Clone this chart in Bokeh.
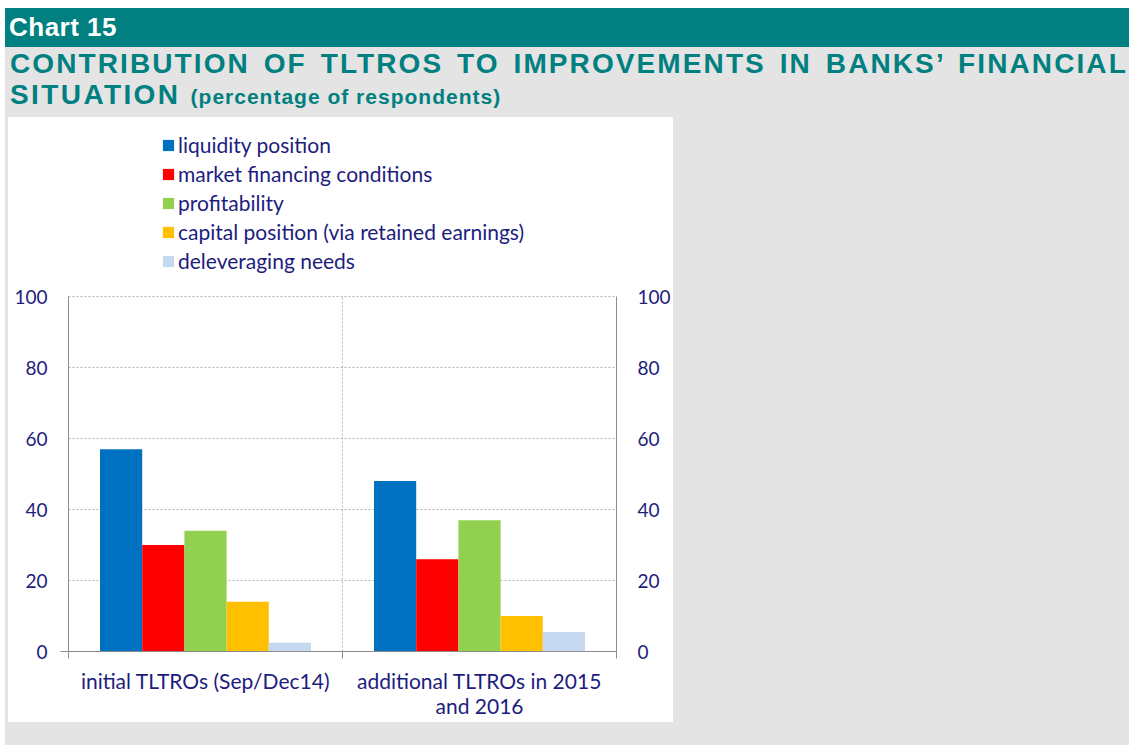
import numpy as np
from bokeh.plotting import figure
from bokeh.models import Range1d, LinearAxis, FixedTicker, Div
from bokeh.layouts import column
from bokeh.embed import file_html
from bokeh.resources import INLINE

# ---------------- data ----------------
categories = ["initial TLTROs (Sep/Dec14)", "additional TLTROs in 2015\nand 2016"]
series_names = [
    "liquidity position",
    "market financing conditions",
    "profitability",
    "capital position (via retained earnings)",
    "deleveraging needs",
]
liquidity = [57, 48]
market_financing = [30, 26]
profitability = [34, 37]
capital = [14, 10]
deleveraging = [2.5, 5.5]
y_ticks = [0, 20, 40, 60, 80, 100]

series_values = [liquidity, market_financing, profitability, capital, deleveraging]
colors = ["#0070C0", "#FF0000", "#92D050", "#FFC000", "#C5D9F1"]

NAVY = "#1d1d7e"
FONT = "Lato"
TEAL = "#008080"
GREY = "#e4e4e4"
AXIS_GREY = "#8c8c8c"
GRID_GREY = "#b4b4b4"

# ---------------- chart ----------------
# frame extends above 100 so that the legend sits inside it (axes are bounded to 0..100)
frame_px = 526.0
px_per_100 = 355.0
y_top = y_ticks[-1] * frame_px / px_per_100

p = figure(
    width=665, height=605, margin=(0, 0, 0, 3),
    x_range=Range1d(0, len(categories)), y_range=Range1d(y_ticks[0], y_top),
    output_backend="svg", toolbar_location=None,
    min_border_left=60, min_border_right=57, min_border_top=8, min_border_bottom=71,
    border_fill_color="white", background_fill_color="white",
    outline_line_color=None,
    styles={"background-color": "white"},
)

centers = np.arange(len(categories)) + 0.5
bar_w = 0.154
n = len(series_names)
for i, (name, vals, col) in enumerate(zip(series_names, series_values, colors)):
    xs = centers + (i - (n - 1) / 2) * bar_w
    p.vbar(x=xs, top=vals, bottom=0, width=bar_w, fill_color=col,
           line_color=None, legend_label=name)

# dashed divider between the two categories (0..100 only)
dividers = np.arange(1, len(categories))
p.segment(x0=dividers, y0=y_ticks[0], x1=dividers, y1=y_ticks[-1],
          line_color=GRID_GREY, line_dash="2 2", line_width=1)

# y axes
right_axis = LinearAxis()
p.add_layout(right_axis, "right")
for ax in [p.yaxis[0], right_axis]:
    ax.ticker = FixedTicker(ticks=y_ticks)
    ax.bounds = (y_ticks[0], y_ticks[-1])
    ax.major_tick_in = 0
    ax.major_tick_out = 0
    ax.minor_tick_in = 0
    ax.minor_tick_out = 0
    ax.major_tick_line_color = None
    ax.minor_tick_line_color = None
    ax.axis_line_color = AXIS_GREY
    ax.major_label_text_font = FONT
    ax.major_label_text_font_size = "19px"
    ax.major_label_text_color = NAVY
    ax.major_label_standoff = 21
# small outward tick at 0 on the left axis
p.yaxis[0].ticker = FixedTicker(ticks=y_ticks, minor_ticks=[y_ticks[0]])
p.yaxis[0].minor_tick_out = 8
p.yaxis[0].minor_tick_line_color = AXIS_GREY
p.yaxis[0].major_label_standoff = 13

# x axis
xa = p.xaxis[0]
xa.ticker = FixedTicker(ticks=list(centers), minor_ticks=list(range(len(categories) + 1)))
xa.major_label_overrides = {float(c): lab for c, lab in zip(centers, categories)}
xa.major_tick_line_color = None
xa.major_tick_in = 0
xa.major_tick_out = 0
xa.minor_tick_in = 0
xa.minor_tick_out = 7
xa.minor_tick_line_color = AXIS_GREY
xa.axis_line_color = AXIS_GREY
xa.major_label_text_font = FONT
xa.major_label_text_font_size = "21px"
xa.major_label_text_line_height = 1.0
xa.major_label_text_color = NAVY
xa.major_label_standoff = 9

# grids
p.ygrid.ticker = FixedTicker(ticks=y_ticks[1:])
p.ygrid.grid_line_color = GRID_GREY
p.ygrid.grid_line_dash = "2 2"
p.xgrid.grid_line_color = None

# legend
lg = p.legend[0]
lg.location = (93, 378)
lg.orientation = "vertical"
lg.padding = 0
lg.margin = 0
lg.border_line_color = None
lg.background_fill_alpha = 0
lg.glyph_width = 14
lg.glyph_height = 14
lg.label_height = 21
lg.label_standoff = 3
lg.spacing = 4
lg.label_text_font = FONT
lg.label_text_font_size = "21px"
lg.label_text_color = NAVY

# ---------------- header / title ----------------
W = 1124
header = Div(
    text="Chart 15", width=W, height=39, margin=0,
    styles={"background-color": TEAL, "color": "white",
            "font-family": "'Liberation Sans', Arial, sans-serif",
            "font-weight": "bold", "font-size": "26px", "letter-spacing": "0.5px",
            "line-height": "39px", "padding-left": "4px",
            "box-sizing": "border-box", "white-space": "nowrap"},
)
title_html = (
    "<div style=\"white-space:nowrap;color:%s;font-family:'Liberation Sans',Arial,sans-serif;"
    "font-weight:bold;padding-left:5px\">"
    "<div style=\"font-size:28px;line-height:33px;letter-spacing:2.1px;word-spacing:4px\">"
    "CONTRIBUTION OF TLTROS TO IMPROVEMENTS IN BANKS’ FINANCIAL</div>"
    "<div style=\"font-size:28px;line-height:33px;letter-spacing:2.4px;position:relative;top:-2px\">SITUATION "
    "<span style=\"font-size:21px;letter-spacing:1px\">(percentage of respondents)</span></div>"
    "</div>" % TEAL
)
title = Div(text=title_html, width=W, height=70, margin=0,
            styles={"background-color": GREY})

layout = column(header, title, p, width=W, height=737, spacing=0, margin=(8, 0, 0, 5),
                styles={"background-color": GREY})

open("out.html", "w").write(file_html(layout, INLINE))
